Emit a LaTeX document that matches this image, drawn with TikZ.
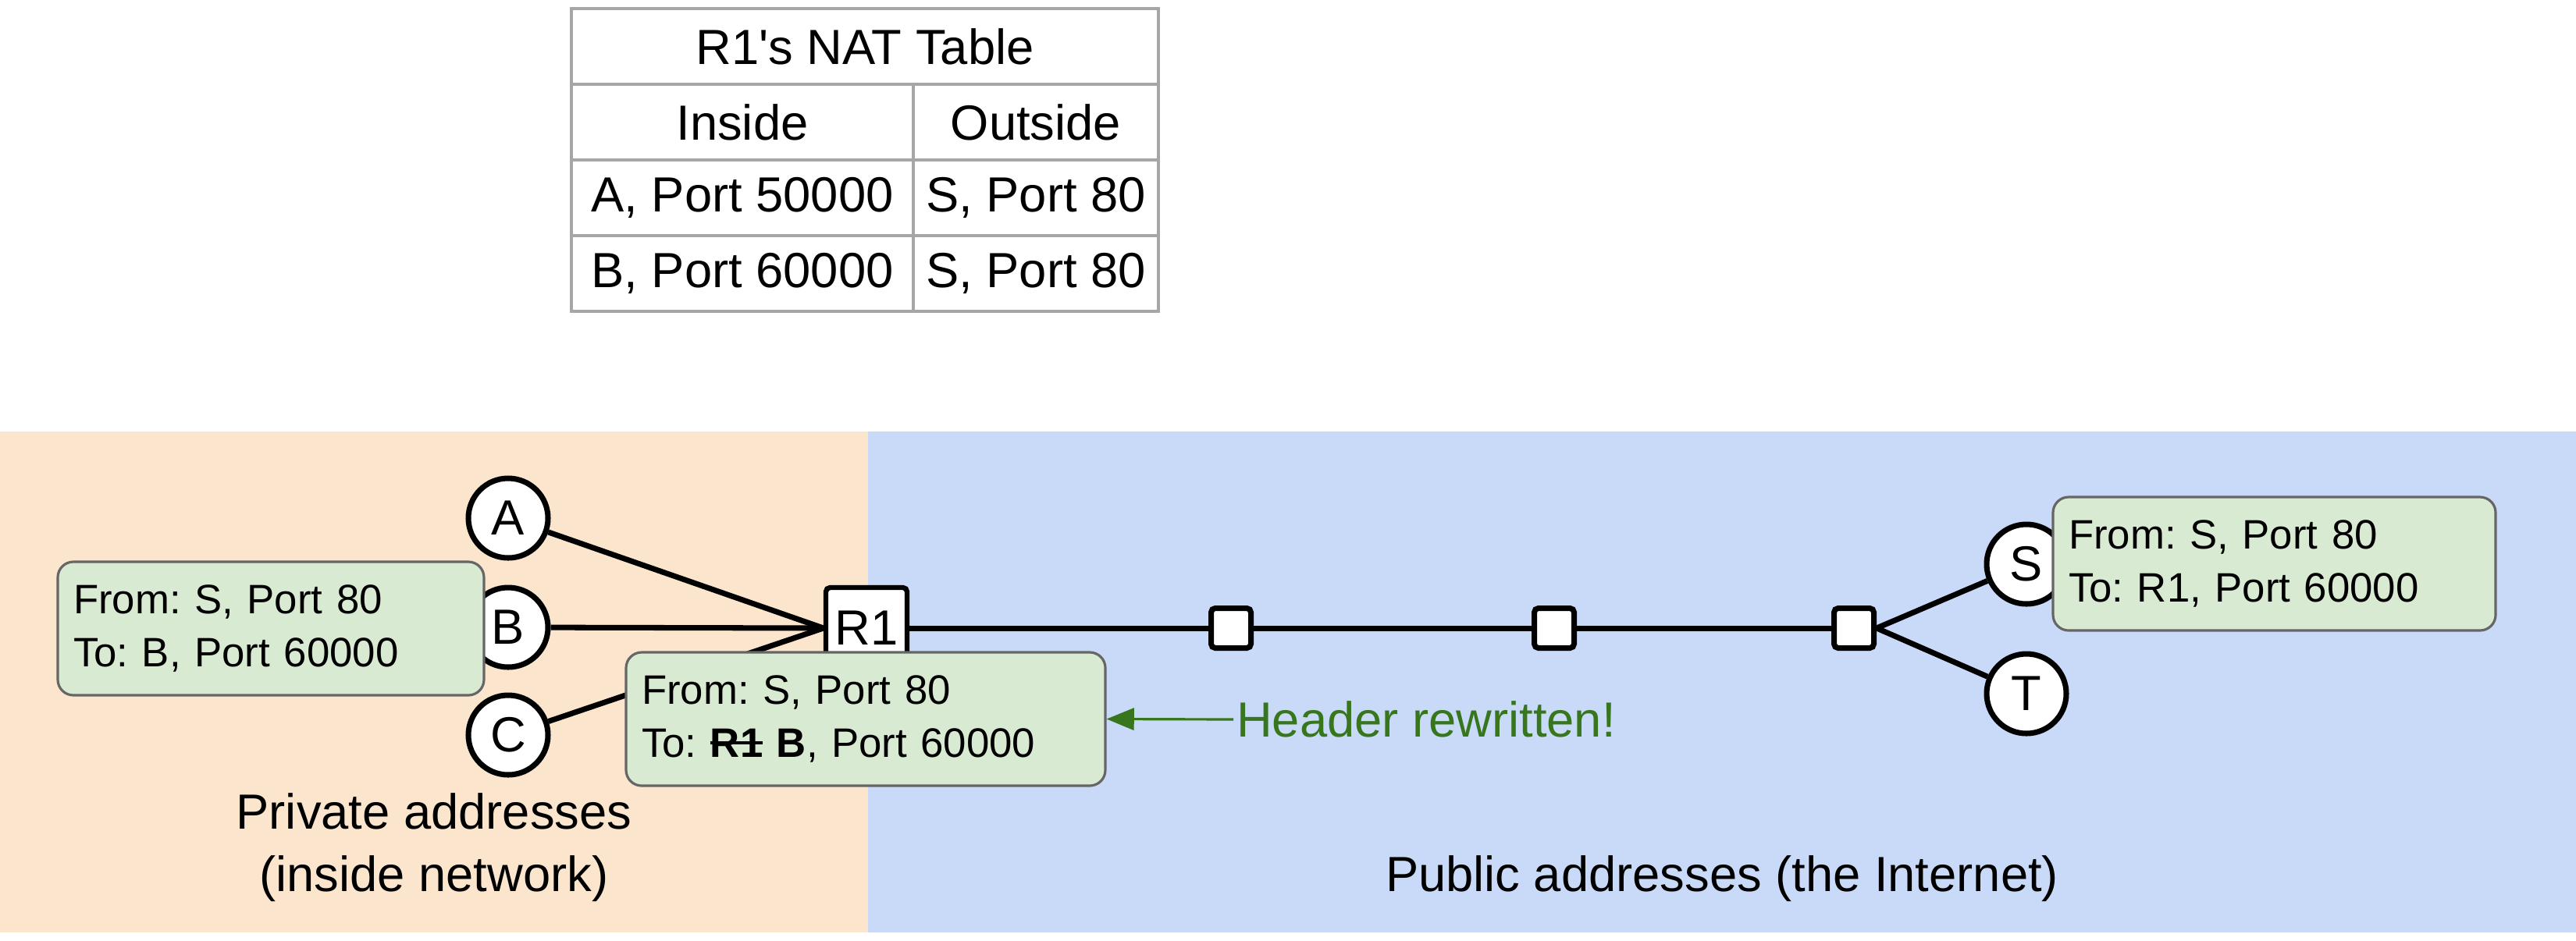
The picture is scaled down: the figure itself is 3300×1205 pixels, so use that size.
\documentclass[tikz,border=0pt]{standalone}
\usepackage{fontspec}
\setmainfont{Liberation Sans}
\usetikzlibrary{arrows.meta}

\newlength{\du}
\setlength{\du}{0.01cm}

\newcommand{\struck}[1]{\sbox0{#1}\rlap{\usebox0}\rule[0.32em]{\wd0}{1.1pt}}

\definecolor{privatefill}{HTML}{FCE5CD}
\definecolor{publicfill}{HTML}{C9DAF8}
\definecolor{headerfill}{HTML}{D9EAD3}
\definecolor{headerline}{HTML}{666666}
\definecolor{tableline}{HTML}{A6A6A6}
\definecolor{notegreen}{HTML}{38761D}

\tikzset{
  big/.style={font=\fontsize{18}{22.7}\selectfont\frenchspacing},
  cell/.style={big, rectangle, draw=tableline, line width=1pt, inner sep=0pt, minimum height=97\du},
  host/.style={big, circle, draw, line width=2pt, fill=white, minimum size=102\du, inner sep=0pt},
  router/.style={big, rectangle, rounded corners=1.5pt, draw, line width=1.8pt, fill=white, minimum size=104\du, inner sep=0pt},
  hop/.style={rectangle, rounded corners=1.5pt, draw, line width=2pt, fill=white, minimum size=51\du, inner sep=0pt},
  link/.style={line width=2pt},
  packet/.style={rectangle, rounded corners=20\du, draw=headerline, line width=0.9pt, fill=headerfill,
    align=left, inner xsep=20\du, inner ysep=0pt, minimum height=171\du, font=\fontsize{15}{19.5}\selectfont\frenchspacing}
}

\begin{document}
\begin{tikzpicture}[x=0.01cm, y=-0.01cm]
\useasboundingbox (0,0) rectangle (3300,1205);
% address spaces
\fill[privatefill] (0,553) rectangle (1112,1195);
\fill[publicfill] (1112,553) rectangle (3300,1195);

% NAT table
\node[cell, minimum width=752\du] (nattitle) at (1108,59.5) {R1\textquotesingle s NAT Table};
\node[cell, minimum width=438\du] (inhead) at (951,156.5) {Inside};
\node[cell, minimum width=314\du] (outhead) at (1327,156.5) {Outside};
\node[cell, minimum width=438\du] (inA) at (951,253.5) {A, Port 50000};
\node[cell, minimum width=314\du] (outA) at (1327,253.5) {S, Port 80};
\node[cell, minimum width=438\du] (inB) at (951,350.5) {B, Port 60000};
\node[cell, minimum width=314\du] (outB) at (1327,350.5) {S, Port 80};

% hosts and routers
\node[host] (A) at (651,664) {A};
\node[host] (B) at (651,804) {B};
\node[host] (C) at (651,942) {C};
\node[router] (R1) at (1110,805) {R1};
\node[hop] (hop1) at (1577,805) {};
\node[hop] (hop2) at (1991,805) {};
\node[hop] (hop3) at (2375,805) {};
\node[host] (S) at (2596,723) {S};
\node[host] (T) at (2596,889) {T};

\draw[link] (A) -- (R1.west);
\draw[link] (B) -- (R1.west);
\draw[link] (C) -- (R1.west);
\draw[link] (R1) -- (hop1) -- (hop2) -- (hop3);
\draw[link] (hop3.east) -- (S);
\draw[link] (hop3.east) -- (T);

\node[big, align=center] (privlabel) at (556,1086) {Private addresses\\(inside network)};
\node[big] (publabel) at (2206,1126) {Public addresses (the Internet)};

% packet headers
\node[packet, text width=506\du] (pktB) at (347,805.5) {From: S, Port 80\\To: B, Port 60000};
\node[packet, text width=574\du] (pktR1) at (1109,921.5) {From: S, Port 80\\To: \textbf{\struck{R1}} \textbf{B}, Port 60000};
\node[packet, text width=527\du] (pktS) at (2913.5,722.5) {From: S, Port 80\\To: R1, Port 60000};

\node[big, text=notegreen, anchor=west, inner sep=1pt] (rewrite) at (1580,922) {Header rewritten!};
\draw[notegreen, line width=0.9pt, -{Triangle[length=10pt, width=8pt]}] (rewrite.west) -- (pktR1.east);
\end{tikzpicture}
\end{document}
